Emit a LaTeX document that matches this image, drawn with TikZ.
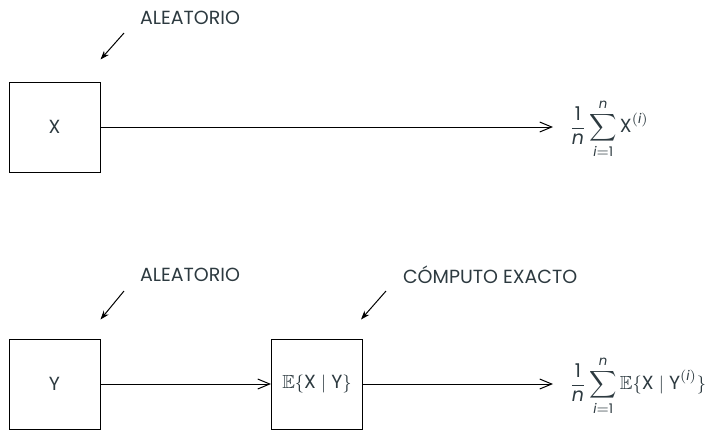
\documentclass[tikz,border=0pt]{standalone}
\usepackage{amsmath}
\usepackage{amssymb}
\usepackage{fontspec}
\setmainfont{Poppins}
\usetikzlibrary{arrows.meta,positioning}
\definecolor{tinte}{RGB}{45,58,64}

\tikzset{
	kasten/.style={draw, line width=0.5pt, minimum width=45.5pt, minimum height=45pt, inner sep=0pt},
	pfeil/.style={-{Straight Barb[length=6pt,width=5pt]}, line width=0.5pt},
	hinweis/.style={-{Stealth[length=4.5pt,width=3.2pt]}, line width=0.5pt},
	summe/.style={anchor=west, inner xsep=8pt, inner ysep=1pt},
}

\begin{document}
\begin{tikzpicture}[x=0.5pt,y=-0.5pt, every node/.style={text=tinte, font=\fontsize{9.5}{11}\selectfont}]
		\useasboundingbox (0,0) rectangle (711,429);
		
		%oben: Zufallsvariable X
		\node[kasten] (bx) at (54.5,127) {X};
		\node[summe] (sx) at (553,129) {$\displaystyle\frac{\text{1}}{\textit{n}}\sum_{\textit{i}=\text{1}}^{\textit{n}}\text{X}^{(\textit{i})}$};
		\node[anchor=west] (za) at (133,18) {ALEATORIO};
		\coordinate (pa) at (124,33);
		\draw[pfeil] (bx.east) -- (bx.east -| sx.west);
		\draw[hinweis] (pa) -- ([yshift=11pt]bx.north east);
		
		%unten: Y und bedingter Erwartungswert
		\node[kasten] (by) at (54.5,384) {Y};
		\node[kasten] (be) at (317,384) {$\mathbb{E}\{\text{X}\mid\text{Y}\}$};
		\node[summe] (sy) at (553,386) {$\displaystyle\frac{\text{1}}{\textit{n}}\sum_{\textit{i}=\text{1}}^{\textit{n}}\mathbb{E}\{\text{X}\mid\text{Y}^{(\textit{i})}\}$};
		\node[anchor=west] (zb) at (133,275) {ALEATORIO};
		\node[anchor=west] (zc) at (396,275) {CÓMPUTO EXACTO};
		\coordinate (pb) at (124,291);
		\coordinate (pc) at (386,291);
		\draw[pfeil] (by.east) -- (be.west);
		\draw[pfeil] (be.east) -- (be.east -| sy.west);
		\draw[hinweis] (pb) -- ([yshift=9.5pt]by.north east);
		\draw[hinweis] (pc) -- ([yshift=9.5pt,xshift=-1pt]be.north east);
		
\end{tikzpicture}
\end{document}
